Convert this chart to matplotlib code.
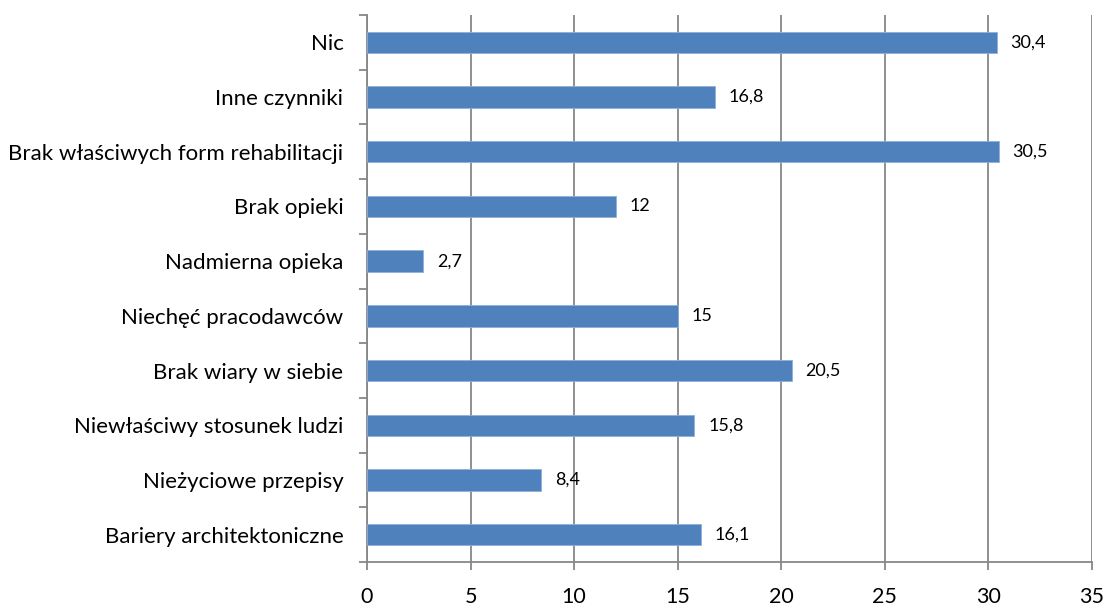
import matplotlib
matplotlib.use('Agg')
import matplotlib.pyplot as plt
import numpy as np

# Data (bottom to top as drawn)
categories = ['Bariery architektoniczne', 'Nieżyciowe przepisy', 'Niewłaściwy stosunek ludzi',
              'Brak wiary w siebie', 'Niechęć pracodawców', 'Nadmierna opieka', 'Brak opieki',
              'Brak właściwych form rehabilitacji', 'Inne czynniki', 'Nic']
values = [16.1, 8.4, 15.8, 20.5, 15.0, 2.7, 12.0, 30.5, 16.8, 30.4]
x_ticks = [0, 5, 10, 15, 20, 25, 30, 35]

plt.rcParams['font.family'] = ['Lato', 'DejaVu Sans']

fig = plt.figure(figsize=(11.07, 6.10), dpi=100)
ax = fig.add_axes([367 / 1107, 1 - 562 / 610, (1092 - 367) / 1107, (562 - 15) / 610])

grid_col = '#878787'
y = np.arange(len(categories))
ax.barh(y, values, height=0.39, color='#4F81BD', edgecolor='#8EB0DA', linewidth=0.6, zorder=3)

for yi, v in zip(y, values):
    label = f'{v:g}'.replace('.', ',')
    ax.annotate(label, (v, yi), xytext=(10, 0), textcoords='offset points',
                va='center', ha='left', fontsize=13, color='black')

ax.set_xlim(0, 35)
ax.set_ylim(-0.5, len(categories) - 0.5)
ax.set_xticks(x_ticks)
ax.set_xticklabels([str(t) for t in x_ticks], fontsize=15.5)
ax.set_yticks(y)
ax.set_yticklabels(categories, fontsize=16)
ax.set_yticks(np.arange(-0.5, len(categories), 1.0), minor=True)

ax.tick_params(axis='y', which='major', length=0, pad=17)
ax.tick_params(axis='y', which='minor', length=6, width=1.3, color=grid_col, direction='out')
ax.tick_params(axis='x', which='major', length=6, width=1.3, color=grid_col, direction='out', pad=12)

ax.grid(axis='x', color=grid_col, linewidth=1.3, zorder=0)
for side in ['top', 'right']:
    ax.spines[side].set_visible(False)
for side in ['left', 'bottom']:
    ax.spines[side].set_color(grid_col)
    ax.spines[side].set_linewidth(1.3)

fig.savefig('out.png', dpi=100, facecolor='white')
